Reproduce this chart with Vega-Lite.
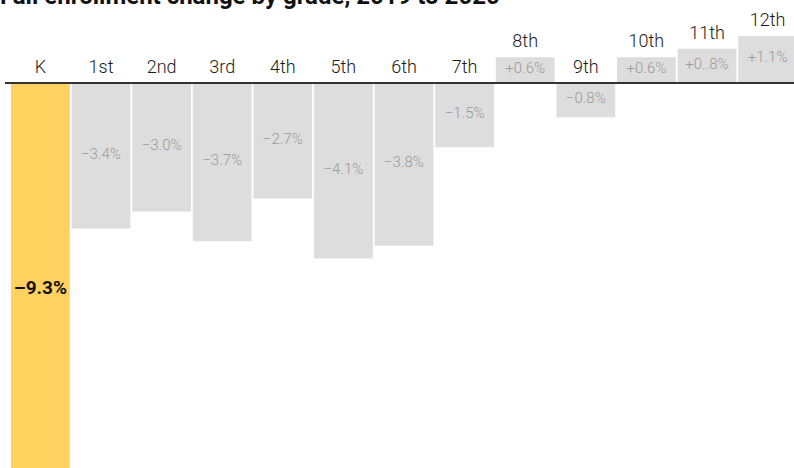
{
  "$schema": "https://vega.github.io/schema/vega-lite/v6.json",
  "width": 789,
  "height": 438,
  "autosize": {"type": "none"},
  "padding": {"top": 30, "left": 5, "right": 0, "bottom": 0},
  "title": {
    "text": "Fall enrollment change by grade, 2019 to 2020",
    "anchor": "start",
    "frame": "group",
    "fontSize": 24,
    "fontWeight": "bold",
    "font": "Roboto",
    "color": "#111111",
    "offset": 3,
    "dx": -5
  },
  "config": {"view": {"stroke": null}, "font": "Roboto"},
  "data": {
    "values": [
      {"grade": "K", "value": -9.3, "label": "–9.3%"},
      {"grade": "1st", "value": -3.4, "label": "−3.4%"},
      {"grade": "2nd", "value": -3.0, "label": "−3.0%"},
      {"grade": "3rd", "value": -3.7, "label": "−3.7%"},
      {"grade": "4th", "value": -2.7, "label": "−2.7%"},
      {"grade": "5th", "value": -4.1, "label": "−4.1%"},
      {"grade": "6th", "value": -3.8, "label": "−3.8%"},
      {"grade": "7th", "value": -1.5, "label": "−1.5%"},
      {"grade": "8th", "value": 0.6, "label": "+0.6%"},
      {"grade": "9th", "value": -0.8, "label": "−0.8%"},
      {"grade": "10th", "value": 0.6, "label": "+0.6%"},
      {"grade": "11th", "value": 0.8, "label": "+0..8%"},
      {"grade": "12th", "value": 1.1, "label": "+1.1%"}
    ]
  },
  "resolve": {"scale": {"y": "independent"}},
  "layer": [
    {
      "mark": {"type": "bar", "clip": true},
      "encoding": {
        "x": {"field": "grade", "type": "nominal", "sort": ["K","1st","2nd","3rd","4th","5th","6th","7th","8th","9th","10th","11th","12th"], "scale": {"range": [6, 792], "paddingInner": 0.03, "paddingOuter": 0}, "axis": null},
        "y": {"field": "value", "type": "quantitative", "scale": {"domain": [-8.995, 1.238], "nice": false, "zero": false}, "axis": null},
        "color": {"condition": {"test": "datum.grade === 'K'", "value": "#FFD15F"}, "value": "#DDDDDD"}
      }
    },
    {
      "mark": {"type": "rule", "color": "#333333", "strokeWidth": 2},
      "encoding": {
        "y": {"datum": 0, "type": "quantitative", "scale": {"domain": [-8.995, 1.238], "nice": false, "zero": false}, "axis": null}
      }
    },
    {
      "transform": [{"filter": "datum.value < 0"}],
      "mark": {"type": "text", "fontSize": 18, "fontWeight": 300, "color": "#1A1A1A", "baseline": "alphabetic", "dy": -10},
      "encoding": {
        "x": {"field": "grade", "type": "nominal", "sort": ["K","1st","2nd","3rd","4th","5th","6th","7th","8th","9th","10th","11th","12th"], "axis": null},
        "y": {"datum": 0, "type": "quantitative", "scale": {"domain": [-8.995, 1.238], "nice": false, "zero": false}, "axis": null},
        "text": {"field": "grade"}
      }
    },
    {
      "transform": [{"filter": "datum.value >= 0"}],
      "mark": {"type": "text", "fontSize": 18, "fontWeight": 300, "color": "#1A1A1A", "baseline": "alphabetic", "dy": -10},
      "encoding": {
        "x": {"field": "grade", "type": "nominal", "sort": ["K","1st","2nd","3rd","4th","5th","6th","7th","8th","9th","10th","11th","12th"], "axis": null},
        "y": {"field": "value", "type": "quantitative", "scale": {"domain": [-8.995, 1.238], "nice": false, "zero": false}, "axis": null},
        "text": {"field": "grade"}
      }
    },
    {
      "transform": [{"filter": "datum.grade !== 'K'"}],
      "mark": {"type": "text", "fontSize": 15, "fontWeight": 300, "color": "#999999", "baseline": "middle", "dy": -2},
      "encoding": {
        "x": {"field": "grade", "type": "nominal", "sort": ["K","1st","2nd","3rd","4th","5th","6th","7th","8th","9th","10th","11th","12th"], "axis": null},
        "y": {"field": "value", "type": "quantitative", "scale": {"domain": [-17.99, 2.476], "nice": false, "zero": false}, "axis": null},
        "text": {"field": "label"}
      }
    },
    {
      "transform": [{"filter": "datum.grade === 'K'"}],
      "mark": {"type": "text", "fontSize": 19, "fontWeight": "bold", "color": "#111111", "baseline": "middle", "dy": 6},
      "encoding": {
        "x": {"field": "grade", "type": "nominal", "sort": ["K","1st","2nd","3rd","4th","5th","6th","7th","8th","9th","10th","11th","12th"], "axis": null},
        "y": {"field": "value", "type": "quantitative", "scale": {"domain": [-17.99, 2.476], "nice": false, "zero": false}, "axis": null},
        "text": {"field": "label"}
      }
    }
  ]
}
